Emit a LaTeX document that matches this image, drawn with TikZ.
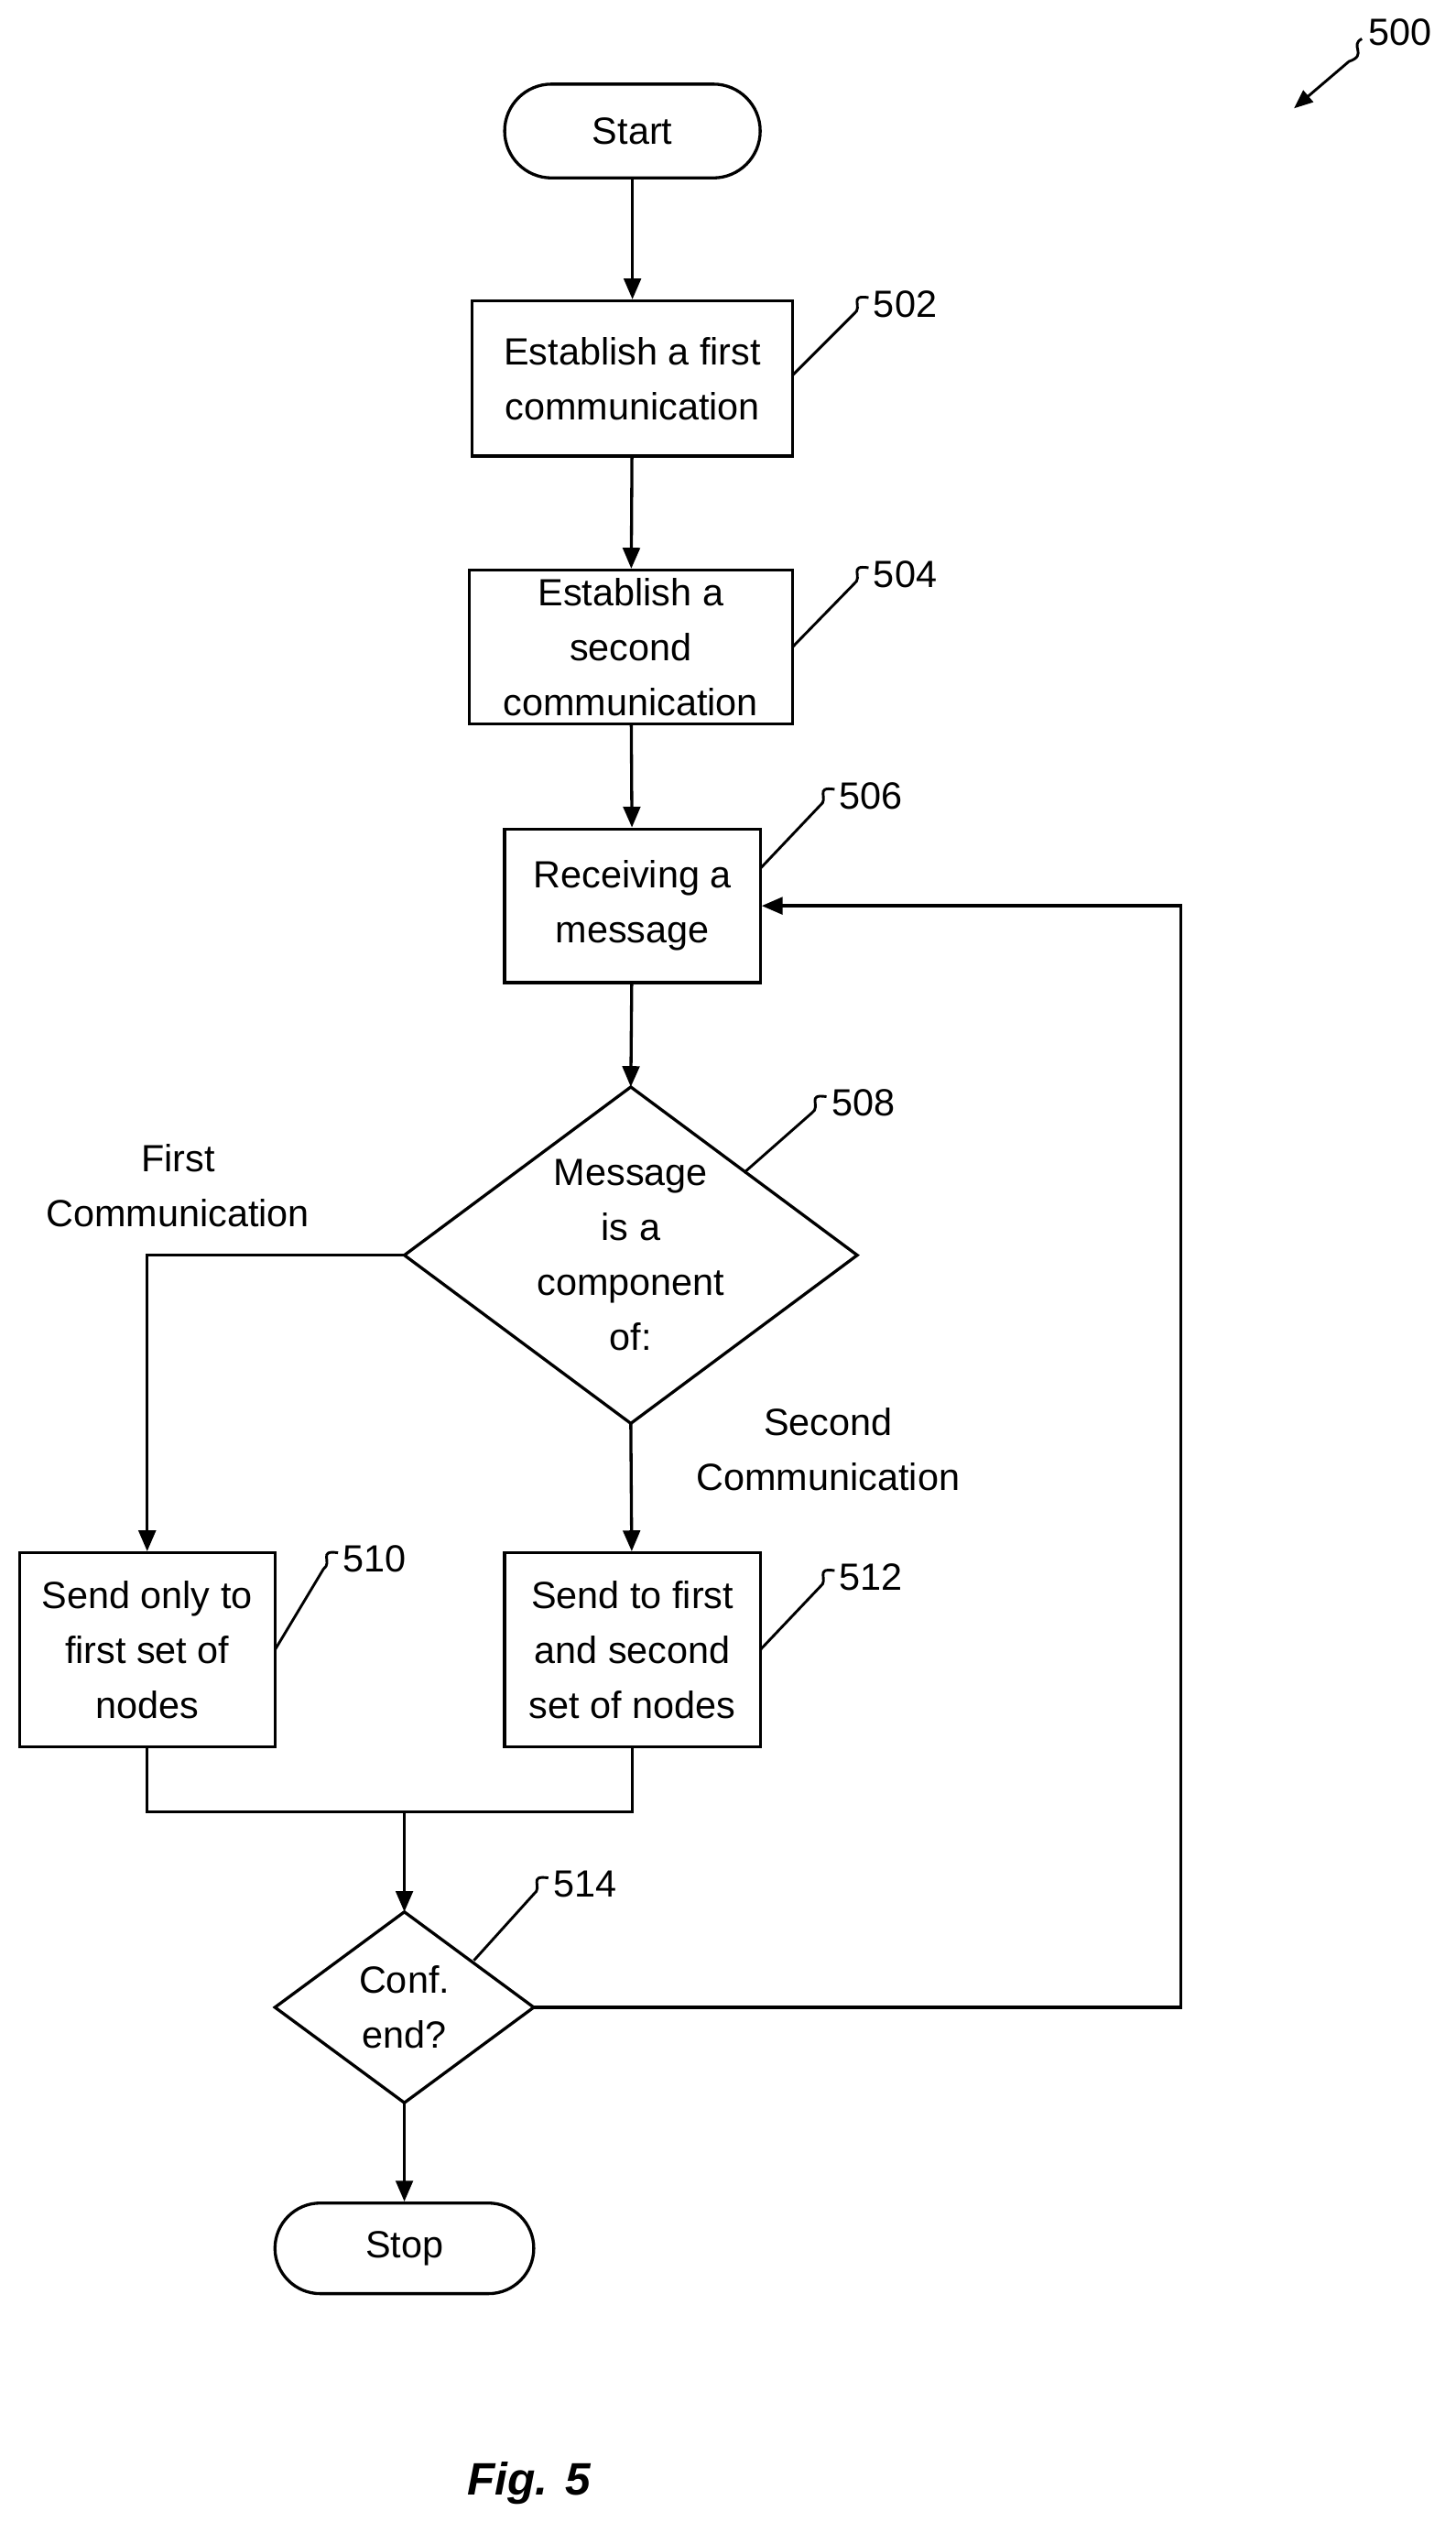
\documentclass[tikz,border=0pt]{standalone}
\usepackage{fontspec}
\setmainfont{Liberation Sans}
\usetikzlibrary{arrows.meta}
\begin{document}
\begin{tikzpicture}[x=0.03cm,y=-0.03cm,line width=1.6pt,
  every node/.style={font=\fontsize{20}{29}\selectfont,align=center},
  box/.style={draw,rectangle,inner sep=0pt},
  arr/.style={-{Triangle[length=11pt,width=9pt]}},
  lbl/.style={font=\fontsize{20}{24}\selectfont,anchor=west,inner sep=1pt},
  lead/.style={line width=1.4pt}]
\useasboundingbox (0,0) rectangle (900,1566);
\node[box,rounded corners=0.87cm,minimum width=4.74cm,minimum height=1.74cm] (start) at (391,81) {Start};
\node[box,minimum width=5.94cm,minimum height=2.88cm] (b502) at (391,234) {Establish a first\\communication};
\node[box,minimum width=6.0cm,minimum height=2.85cm] (b504) at (390,400) {Establish a\\second\\communication};
\node[box,minimum width=4.74cm,minimum height=2.85cm] (b506) at (391,560) {Receiving a\\message};
\draw (390,672) coordinate (d8t) -- (530,776) coordinate (d8r) -- (390,880) coordinate (d8b) -- (250,776) coordinate (d8l) -- cycle;
\node (d508) at (390,776) {Message\\is a\\component\\of:};
\node[box,minimum width=4.74cm,minimum height=3.6cm] (b510) at (91,1020) {Send only to\\first set of\\nodes};
\node[box,minimum width=4.74cm,minimum height=3.6cm] (b512) at (391,1020) {Send to first\\and second\\set of nodes};
\draw (250,1182) coordinate (d4t) -- (330,1241) coordinate (d4r) -- (250,1300) coordinate (d4b) -- (170,1241) coordinate (d4l) -- cycle;
\node (d514) at (250,1241) {Conf.\\end?};
\node[box,rounded corners=0.84cm,minimum width=4.8cm,minimum height=1.68cm] (stop) at (250,1390) {Stop};
\node at (110,733) {First\\Communication};
\node at (512,896) {Second\\Communication};
\node[font=\fontsize{24}{28}\selectfont\bfseries\itshape] (fig) at (327,1535) {Fig. 5};
% connectors
\draw[arr] (start) -- (b502);
\draw[arr] (b502) -- (b504);
\draw[arr] (b504) -- (b506);
\draw[arr] (b506) -- (d8t);
\draw[arr] (d8b) -- (b512);
\draw[arr] (d8l) -| (b510.north);
\coordinate (m) at (250,1120);
\draw (b510.south) |- (m) -| (b512.south);
\draw[arr] (m) -- (d4t);
\draw[arr] (d4b) -- (stop);
\coordinate (lp) at (730,1241);
\draw[arr] (d4r) -- (lp) |- (b506.east);
% reference numerals
\foreach \n/\ax/\ay/\lx/\ly in {502/490/232/538/188, 504/490/400/538/355, 506/470/537/517/492, 508/460/725/512/682, 510/170/1020/210/964, 512/470/1020/517/975, 514/293/1212/340/1165}{
  \node[lbl] (r\n) at (\lx,\ly) {\n};
  \draw[lead] (\ax,\ay) -- (\lx-10,\ly+6) .. controls (\lx-4,\ly+2) and (\lx-14,\ly-6) .. (\lx-1,\ly-4);
}
\node[lbl] (r500) at (844,20) {500};
\draw[lead,-{Triangle[length=10pt,width=8pt]}] (842,24) .. controls (834,28) and (846,34) .. (834,38) -- (800,67);
\end{tikzpicture}
\end{document}
